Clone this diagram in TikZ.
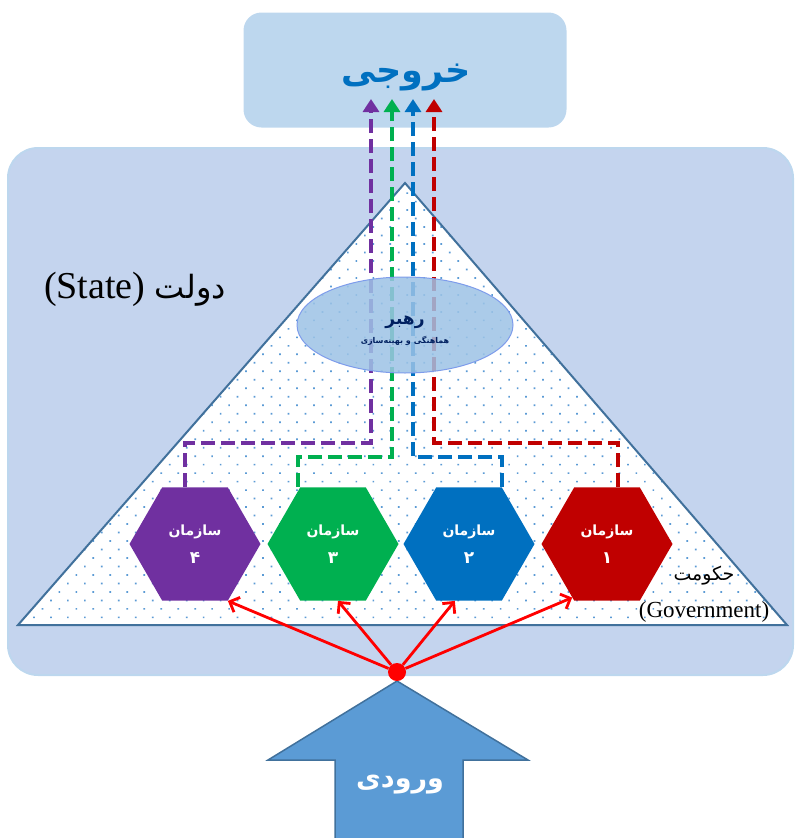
\documentclass[tikz,border=0pt]{standalone}
\usepackage{fontspec}
\setmainfont{Liberation Serif}
\newfontfamily\arabicfont[Script=Arabic]{DejaVu Sans}
\TeXXeTstate=1
\usetikzlibrary{calc}
\usetikzlibrary{arrows.meta}
\usetikzlibrary{patterns.meta}
\usetikzlibrary{shapes.geometric}

\definecolor{outblue}{RGB}{189,215,238}
\definecolor{stateblue}{RGB}{196,212,238}
\definecolor{edgeblue}{RGB}{65,113,156}
\definecolor{dotblue}{RGB}{91,155,213}
\definecolor{ellblue}{RGB}{157,195,230}
\definecolor{orgpurple}{RGB}{112,48,160}
\definecolor{orggreen}{RGB}{0,176,80}
\definecolor{orgblue}{RGB}{0,112,192}
\definecolor{orgred}{RGB}{192,0,0}
\definecolor{navy}{RGB}{0,32,96}

\newcommand{\farsi}[1]{\beginR#1\endR}

\begin{document}
\begin{tikzpicture}[x=1pt, y=-1pt,
  hex/.style={regular polygon, regular polygon sides=6, minimum size=131pt, inner sep=0pt, text=white, align=center, font=\arabicfont\bfseries\fontsize{14}{28}\selectfont},
  link/.style={line width=4pt, dash pattern=on 14pt off 6pt, -{Triangle[width=16pt,length=13pt]}},
  feed/.style={red, line width=2.8pt, -{Straight Barb[length=8pt,width=16pt]}}]

\useasboundingbox (0,0) rectangle (795,838);

\draw[draw=outblue, line width=2pt, fill=stateblue, rounded corners=30pt] (8,148) rectangle (793,675);
\node[fill=outblue, rounded corners=18pt, minimum width=323pt, minimum height=115pt] (outbox) at (405,70) {};

\coordinate (top) at (405,183);
\coordinate (bl) at (18,625);
\coordinate (br) at (787,625);
\fill[white] (top) -- (br) -- (bl) -- cycle;
\fill[pattern={Dots[distance=12pt, angle=45, radius=1.2pt]}, pattern color=dotblue] (top) -- (br) -- (bl) -- cycle;
\draw[edgeblue, line width=2pt] (top) -- (br) -- (bl) -- cycle;

\node[hex, fill=orgpurple] (hex4) at (195,544) {\farsi{سازمان}\\\farsi{\fontsize{17}{20}\selectfont ۴}};
\node[hex, fill=orggreen] (hex3) at (333,544) {\farsi{سازمان}\\\farsi{\fontsize{17}{20}\selectfont ۳}};
\node[hex, fill=orgblue] (hex2) at (469,544) {\farsi{سازمان}\\\farsi{\fontsize{17}{20}\selectfont ۲}};
\node[hex, fill=orgred] (hex1) at (607,544) {\farsi{سازمان}\\\farsi{\fontsize{17}{20}\selectfont ۱}};

\coordinate (o4) at (371,99);
\coordinate (o3) at (392,99);
\coordinate (o2) at (413,99);
\coordinate (o1) at (434,99);
\coordinate (k4) at (185,443);
\coordinate (k3) at (298,457);
\coordinate (k2) at (502,457);
\coordinate (k1) at (618,443);
\draw[link, orgpurple] (k4 |- hex4.north) -- (k4) -| (o4);
\draw[link, orggreen] (k3 |- hex3.north) -- (k3) -| (o3);
\draw[link, orgblue] (k2 |- hex2.north) -- (k2) -| (o2);
\draw[link, orgred] (k1 |- hex1.north) -- (k1) -| (o1);

\node[ellipse, minimum width=216pt, minimum height=96pt, fill=ellblue, fill opacity=.85, draw=ellblue!80!blue, line width=1pt] (lead) at (405,325) {};
\node[text=navy, align=center, font=\arabicfont\bfseries] (leadtxt) at (405,331)
  {\fontsize{17}{18}\selectfont\farsi{رهبر}\\[7pt]\fontsize{8}{10}\selectfont\farsi{هماهنگی و بهینه‌سازی}};

\node[text=orgblue, font=\arabicfont\bfseries\fontsize{35}{40}\selectfont] (outtxt) at (406,77) {\farsi{خروجی}};

\draw[fill=dotblue, draw=edgeblue, line width=1.5pt] (397,681) -- (528,760) -- (463,760) -- (463,842) -- (335,842) -- (335,760) -- (268,760) -- cycle;
\node[text=white, font=\arabicfont\bfseries\fontsize{27}{30}\selectfont] (intxt) at (400,785) {\farsi{ورودی}};

\node[circle, fill=red, minimum size=18pt, inner sep=0pt] (in) at (397,672) {};
\draw[feed] (in) -- (hex4.-60);
\draw[feed] (in) -- (hex3.-85);
\draw[feed] (in) -- (hex2.-104);
\draw[feed] (in) -- (hex1.-123);

\node[font=\fontsize{38}{44}\selectfont] (statelbl) at (135,289) {(State) {\arabicfont\fontsize{32}{38}\selectfont\farsi{دولت}}};
\node[font=\arabicfont\fontsize{19}{22}\selectfont] (govfa) at (704,576) {\farsi{حکومت}};
\node[font=\fontsize{23}{26}\selectfont] (goven) at (704,612) {(Government)};
\end{tikzpicture}
\end{document}
